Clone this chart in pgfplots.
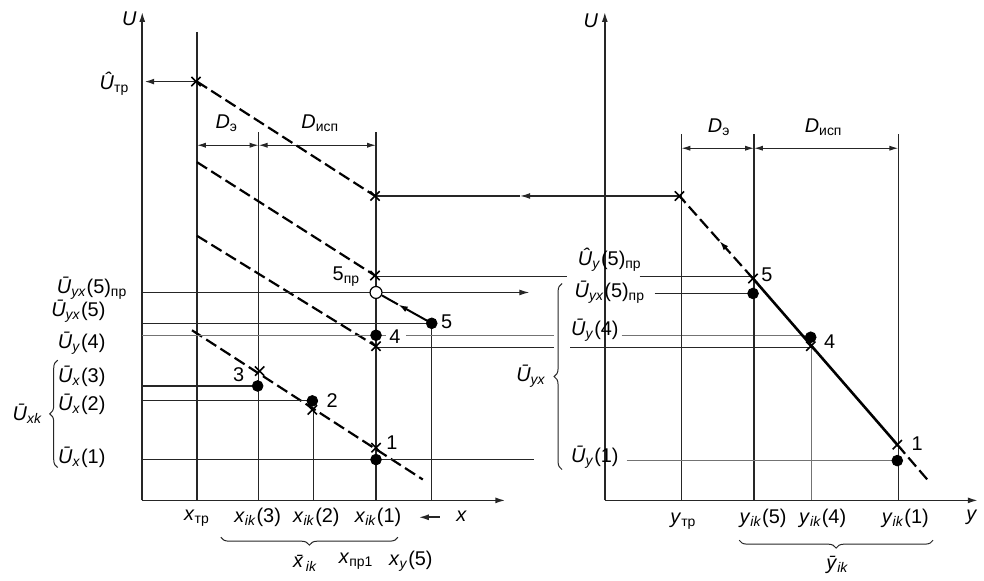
\documentclass[border=0pt]{standalone}
\usepackage{fontspec}
\setmainfont{Liberation Sans}
\usepackage{pgfplots}
\pgfplotsset{compat=1.18}
\usetikzlibrary{arrows.meta,decorations.pathreplacing}

\newcommand{\sub}[1]{\textsubscript{#1}}
\newcommand{\lbl}{\fontsize{10}{12}\selectfont}

\pgfplotsset{
  ln/.style={black!85, line width=0.55pt},
  lg/.style={black!55, line width=0.6pt},
  dsh/.style={black, line width=1.1pt, dash pattern=on 6pt off 2.5pt},
  arr/.style={-{Latex[length=5pt,width=3pt]}},
  both/.style={{Latex[length=4.5pt,width=2.6pt]}-{Latex[length=4.5pt,width=2.6pt]}},
  crs/.style={only marks, mark=x, mark size=3.3pt, mark options={line width=0.8pt, solid, black}},
  dot/.style={only marks, mark=*, mark size=2.7pt, mark options={black, solid}},
  brc/.style={black!85, line width=0.5pt, decorate, decoration={brace, amplitude=4pt}},
}

\begin{document}
\begin{tikzpicture}
\begin{axis}[
  scale only axis, width=492pt, height=289pt,
  xmin=0, xmax=984, ymin=0, ymax=578, y dir=reverse,
  hide axis, clip=false,
  every axis plot/.append style={mark=none},
]
% frame of the picture
\addplot[draw=none] coordinates {(0,0) (984,578)};

% ---------- left panel ----------
% axes
\addplot[ln, line width=0.8pt, arr] coordinates {(143,503) (143,12)};
\addplot[ln, line width=0.8pt, arr] coordinates {(143,503) (508,503)};
% verticals
\addplot[ln] coordinates {(198,32) (198,503)};
\addplot[ln] coordinates {(260,133) (260,503)};
\addplot[ln] coordinates {(378,133) (378,503)};
\addplot[ln] coordinates {(315,412) (315,503)};
\addplot[ln] coordinates {(434,325) (434,503)};
% dimension lines
\addplot[ln, both] coordinates {(198,146) (260,146)};
\addplot[ln, both] coordinates {(260,146) (378,146)};
% dashed characteristics
\addplot[dsh] coordinates {(198,82) (377,197)};
\addplot[dsh] coordinates {(198,163) (377,277)};
\addplot[dsh] coordinates {(198,237) (378,348)};
\addplot[dsh] coordinates {(193,332) (425,482)};
% U_tr arrow
\addplot[ln, line width=0.9pt, arr] coordinates {(197,82) (145,82)};
% horizontal lines
\addplot[ln] coordinates {(143,294) (372,294)};
\addplot[ln, arr] coordinates {(384,294) (532,294)};
\addplot[ln] coordinates {(143,325) (434,325)};
\addplot[lg] coordinates {(143,337) (388,337)};
\addplot[lg] coordinates {(408,337) (557,337)};
\addplot[lg] coordinates {(625,337) (815,337)};
\addplot[ln] coordinates {(378,349) (557,349)};
\addplot[ln] coordinates {(573,349) (815,349)};
\addplot[ln] coordinates {(143,388) (259,388)};
\addplot[ln] coordinates {(143,403) (314,403)};
\addplot[ln] coordinates {(143,462) (537,462)};
\addplot[ln] coordinates {(378,278) (570,278)};
\addplot[ln] coordinates {(643,278) (757,278)};
% arrow from right panel to left
\addplot[ln, arr] coordinates {(683,197) (523,197)};
\addplot[ln] coordinates {(523,197) (378,197)};
% point 5 to 5_pr
\addplot[black, line width=1pt, arr] coordinates {(434,325) (400,306)};
\addplot[black, line width=1pt] coordinates {(400,306) (384,297)};
% marks
\addplot[crs] coordinates {(197,82) (377,197) (377,277) (378,348) (261,373) (314,412) (378,450)};
\addplot[dot] coordinates {(378,337) (434,325) (259,388) (314,403) (378,462)};
\addplot[only marks, mark=*, mark size=3pt, mark options={fill=white, draw=black, line width=0.6pt}] coordinates {(378,294)};

% labels left
\node[font=\lbl] at (axis cs:130,19) {\textit{U}};
\node[font=\lbl, anchor=east] at (axis cs:137,84) {\textit{\^U}\sub{тр}};
\node[font=\lbl] at (axis cs:228,124) {\textit{D}\sub{э}};
\node[font=\lbl] at (axis cs:322,124) {\textit{D}\sub{исп}};
\node[font=\lbl, anchor=east] at (axis cs:135,290) {\textit{\=U}\sub{\textit{yx}}(5)\sub{пр}};
\node[font=\lbl, anchor=east] at (axis cs:113,313) {\textit{\=U}\sub{\textit{yx}}(5)};
\node[font=\lbl, anchor=east] at (axis cs:113,345) {\textit{\=U}\sub{\textit{y}}(4)};
\node[font=\lbl, anchor=east] at (axis cs:113,378) {\textit{\=U}\sub{\textit{x}}(3)};
\node[font=\lbl, anchor=east] at (axis cs:113,406) {\textit{\=U}\sub{\textit{x}}(2)};
\node[font=\lbl, anchor=east] at (axis cs:113,460) {\textit{\=U}\sub{\textit{x}}(1)};
\addplot[brc] coordinates {(58,470) (58,362)};
\node[font=\lbl, anchor=east] at (axis cs:50,416) {\textit{\=U}\sub{\textit{xk}}};
\node[font=\lbl, anchor=east] at (axis cs:369,278) {5\sub{пр}};
\node[font=\lbl] at (axis cs:449,323) {5};
\node[font=\lbl] at (axis cs:397,338) {4};
\node[font=\lbl] at (axis cs:240,377) {3};
\node[font=\lbl] at (axis cs:334,403) {2};
\node[font=\lbl] at (axis cs:394,445) {1};
% bottom left
\node[font=\lbl] at (axis cs:198,521) {\textit{x}\sub{тр}};
\node[font=\lbl] at (axis cs:259,520) {\textit{x}\sub{\textit{ik}}(3)};
\node[font=\lbl] at (axis cs:318,520) {\textit{x}\sub{\textit{ik}}(2)};
\node[font=\lbl] at (axis cs:380,520) {\textit{x}\sub{\textit{ik}}(1)};
\addplot[ln, line width=0.8pt, arr] coordinates {(442,520) (421,520)};
\node[font=\lbl] at (axis cs:464,519) {\textit{x}};
\addplot[brc] coordinates {(400,540) (222,540)};
\node[font=\lbl] at (axis cs:307,566) {\textit{\=x}\sub{\textit{ik}}};
\node[font=\lbl] at (axis cs:358,564) {\textit{x}\sub{пр1}};
\node[font=\lbl] at (axis cs:413,564) {\textit{x}\sub{\textit{y}}(5)};

% ---------- right panel ----------
\addplot[ln, line width=0.8pt, arr] coordinates {(608,503) (608,12)};
\addplot[ln, line width=0.8pt, arr] coordinates {(608,503) (983,503)};
\addplot[ln] coordinates {(685,135) (685,503)};
\addplot[ln] coordinates {(758,135) (758,503)};
\addplot[ln] coordinates {(903,135) (903,503)};
\addplot[lg] coordinates {(816,350) (816,503)};
\addplot[ln, both] coordinates {(685,149) (758,149)};
\addplot[ln, both] coordinates {(758,149) (903,149)};
% characteristic
\addplot[dsh, arr] coordinates {(757,280) (723,242)};
\addplot[dsh] coordinates {(723,242) (683,197)};
\addplot[black, line width=1.3pt] coordinates {(757,280) (902,447)};
\addplot[dsh] coordinates {(902,447) (933,483)};
% horizontal lines
\addplot[ln] coordinates {(658,295) (757,295)};
\addplot[lg] coordinates {(630,463) (902,463)};
% marks
\addplot[crs] coordinates {(683,197) (757,280) (815,348) (902,447)};
\addplot[dot] coordinates {(757,295) (815,339) (902,463)};
% labels right
\node[font=\lbl] at (axis cs:594,21) {\textit{U}};
\node[font=\lbl] at (axis cs:723,128) {\textit{D}\sub{э}};
\node[font=\lbl] at (axis cs:828,128) {\textit{D}\sub{исп}};
\node[font=\lbl] at (axis cs:613,261) {\textit{\^U}\sub{\textit{y}}(5)\sub{пр}};
\node[font=\lbl] at (axis cs:613,294) {\textit{\=U}\sub{\textit{yx}}(5)\sub{пр}};
\node[font=\lbl] at (axis cs:598,332) {\textit{\=U}\sub{\textit{y}}(4)};
\node[font=\lbl] at (axis cs:598,460) {\textit{\=U}\sub{\textit{y}}(1)};
\addplot[brc] coordinates {(565,472) (565,285)};
\node[font=\lbl, anchor=east] at (axis cs:556,378) {\textit{\=U}\sub{\textit{yx}}};
\node[font=\lbl] at (axis cs:771,276) {5};
\node[font=\lbl] at (axis cs:834,343) {4};
\node[font=\lbl] at (axis cs:922,446) {1};
% bottom right
\node[font=\lbl] at (axis cs:687,524) {\textit{y}\sub{тр}};
\node[font=\lbl] at (axis cs:767,521) {\textit{y}\sub{\textit{ik}}(5)};
\node[font=\lbl] at (axis cs:827,521) {\textit{y}\sub{\textit{ik}}(4)};
\node[font=\lbl] at (axis cs:910,521) {\textit{y}\sub{\textit{ik}}(1)};
\node[font=\lbl] at (axis cs:977,520) {\textit{y}};
\addplot[brc] coordinates {(938,543) (743,543)};
\node[font=\lbl] at (axis cs:842,568) {\textit{\=y}\sub{\textit{ik}}};
\end{axis}
\end{tikzpicture}
\end{document}
